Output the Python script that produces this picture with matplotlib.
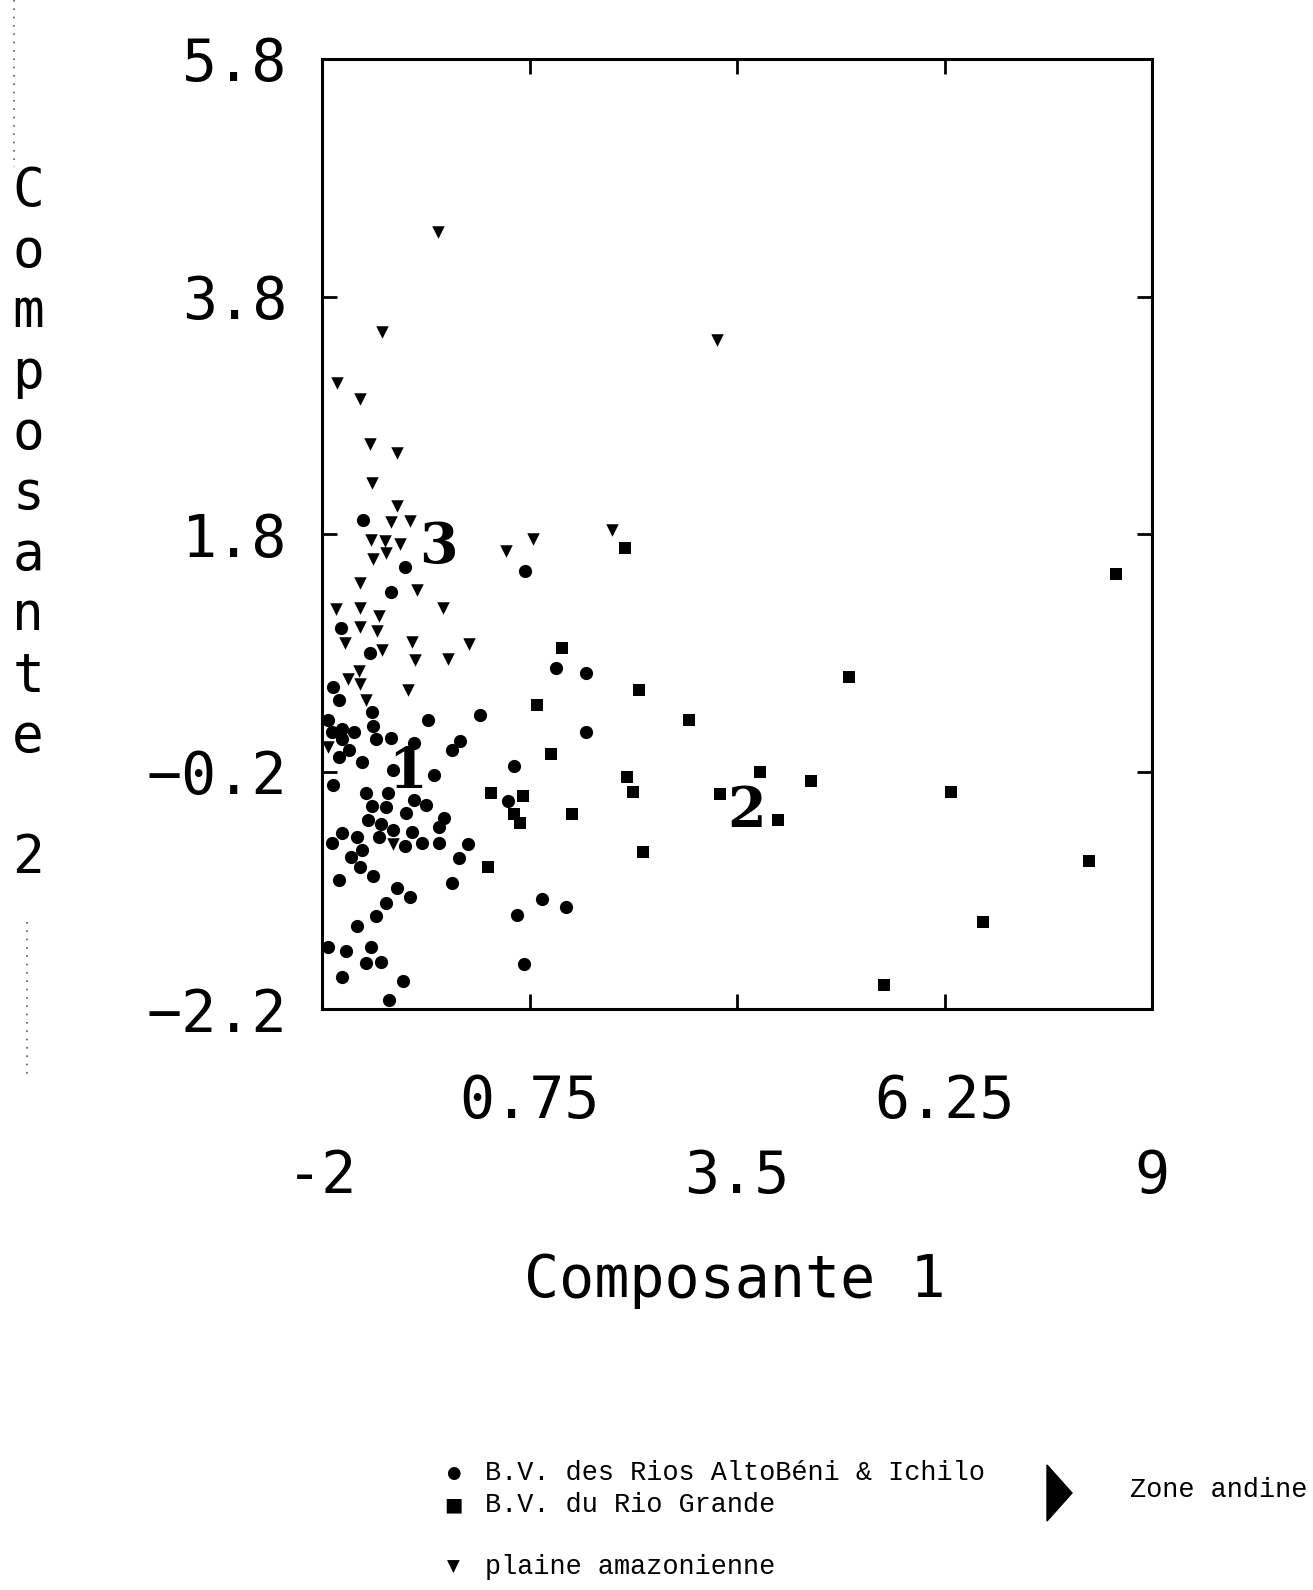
"""
ACP scatter: Composante 1 vs Composante 2, three groups of basins.

Values were read off a scanned figure; saved as out.png.
"""

import matplotlib

matplotlib.use("Agg")

import matplotlib.pyplot as plt
from matplotlib.lines import Line2D
from matplotlib.patches import Polygon

FIG_W_PX = 1313
FIG_H_PX = 1590
DPI = 100
INK = "black"
MONO = "DejaVu Sans Mono"
TYPEWRITER = "Liberation Mono"

# B.V. des Rios AltoBéni & Ichilo (circles)
altobeni_x = [
    -1.46, -0.90, 0.69, -1.09, -1.75, -1.37, 1.10, 1.50, -1.85, -1.77,
    -1.34, 0.10, -1.92, -0.59, -1.32, -1.87, -1.73, -1.58, 1.50, -1.73,
    -1.29, -1.09, -0.78, -0.17, -1.64, -0.28, -1.77, -1.47, 0.54, -1.06,
    -0.51, -1.86, -1.42, -1.13, -0.78, -0.62, 0.47, -1.34, -1.15, -0.89,
    -0.38, -0.45, -1.39, -1.22, -1.06, -0.81, -1.74, -1.54, -1.87, -1.24,
    -0.90, -0.68, -0.45, -0.07, -1.47, -1.61, -0.19, -1.50, -1.77, -1.33,
    -0.28, -1.00, -0.84, 0.92, 1.23, -1.15, 0.59, -1.28, -1.53, -1.92,
    -1.68, -1.35, -1.42, -1.22, 0.68, -1.74, -0.92, -1.11,
]
altobeni_y = [
    1.92, 1.52, 1.49, 1.31, 1.01, 0.80, 0.67, 0.63, 0.51, 0.40,
    0.30, 0.28, 0.23, 0.23, 0.18, 0.13, 0.16, 0.13, 0.13, 0.07,
    0.07, 0.08, 0.04, 0.06, -0.02, -0.02, -0.08, -0.12, -0.15, -0.19,
    -0.23, -0.31, -0.38, -0.38, -0.44, -0.48, -0.45, -0.49, -0.50, -0.55,
    -0.59, -0.67, -0.61, -0.64, -0.69, -0.71, -0.72, -0.75, -0.80, -0.75,
    -0.83, -0.80, -0.80, -0.81, -0.86, -0.92, -0.93, -1.00, -1.11, -1.08,
    -1.14, -1.18, -1.26, -1.27, -1.34, -1.31, -1.41, -1.42, -1.50, -1.68,
    -1.71, -1.68, -1.81, -1.80, -1.82, -1.93, -1.96, -2.12,
]

# B.V. du Rio Grande (squares)
grande_x = [
    2.02, 1.18, 2.20, 0.85, 1.04, 2.04, 2.12, 0.24, 0.66, 0.54,
    0.63, 1.31, 2.25, 0.20, 2.87, 4.99, 3.80, 4.48, 3.27, 4.04,
    6.33, 8.52, 8.17, 6.76, 5.45,
]
grande_y = [
    1.68, 0.84, 0.49, 0.36, -0.05, -0.25, -0.37, -0.38, -0.41, -0.56,
    -0.63, -0.56, -0.88, -1.00, 0.23, 0.60, -0.20, -0.28, -0.39, -0.61,
    -0.37, 1.46, -0.95, -1.47, -2.00,
]

# plaine amazonienne (triangles)
plaine_x = [
    -0.46, -1.21, -1.80, -1.49, -1.37, -1.00, -1.34, -1.00, -1.09, -0.84,
    -1.35, -1.17, -0.96, -1.15, -1.32, 0.44, 0.80, 1.84, -1.50, -0.74,
    -1.81, -1.49, -1.25, -0.39, -1.50, -1.27, -1.69, -0.81, -0.05, -1.21,
    -0.77, -0.33, -1.51, -1.65, -1.49, -0.86, -1.42, -1.92, -1.06, 3.23,
]
plaine_y = [
    4.34, 3.50, 3.07, 2.94, 2.56, 2.48, 2.23, 2.04, 1.90, 1.91,
    1.75, 1.74, 1.72, 1.64, 1.59, 1.66, 1.76, 1.83, 1.39, 1.33,
    1.17, 1.18, 1.11, 1.18, 1.02, 0.98, 0.88, 0.89, 0.87, 0.82,
    0.74, 0.75, 0.65, 0.58, 0.54, 0.49, 0.40, 0.01, -0.81, 3.43,
]

# cluster numbers written on the chart
cluster_names = ["1", "2", "3"]
cluster_x = [-0.87, 3.63, -0.46]
cluster_y = [-0.21, -0.54, 1.69]

x_limits = (-2, 9)
y_limits = (-2.2, 5.8)
x_upper_ticks = [0.75, 6.25]
x_upper_labels = ["0.75", "6.25"]
x_lower_ticks = [-2, 3.5, 9]
x_lower_labels = ["-2", "3.5", "9"]
y_ticks = [-2.2, -0.2, 1.8, 3.8, 5.8]
y_tick_labels = ["\u22122.2", "\u22120.2", "1.8", "3.8", "5.8"]

legend_rows = [
    ("\u25cf", "B.V. des Rios AltoBéni & Ichilo", 1473, 12),
    ("\u25a0", "B.V. du Rio Grande", 1505, 14),
    ("\u25bc", "plaine amazonienne", 1567, 12),
]


def _fx(px: float) -> float:
    """Figure fraction from a horizontal pixel position."""
    return px / FIG_W_PX


def _fy(py: float) -> float:
    """Figure fraction from a vertical pixel position (top origin)."""
    return 1 - py / FIG_H_PX


fig = plt.figure(figsize=(FIG_W_PX / DPI, FIG_H_PX / DPI), dpi=DPI)
fig.patch.set_facecolor("white")
ax = fig.add_axes([_fx(322), _fy(1009), _fx(830), 950 / FIG_H_PX])

ax.scatter(altobeni_x, altobeni_y, marker="o", s=9.5**2, color=INK, linewidths=0, zorder=3)
ax.scatter(grande_x, grande_y, marker="s", s=8.5**2, color=INK, linewidths=0, zorder=3)
ax.scatter(plaine_x, plaine_y, marker="v", s=9.0**2, color=INK, linewidths=0, zorder=3)

for name, cx, cy in zip(cluster_names, cluster_x, cluster_y):
    ax.text(cx, cy, name, fontsize=40, fontweight="heavy", family="DejaVu Serif",
            ha="center", va="center", color=INK, zorder=4)

ax.set_xlim(*x_limits)
ax.set_ylim(*y_limits)

for spine in ax.spines.values():
    spine.set_linewidth(2.2)
    spine.set_color(INK)

# two staggered rows of x labels: upper row = major, lower row = minor
ax.set_xticks(x_upper_ticks)
ax.set_xticklabels(x_upper_labels)
ax.set_xticks(x_lower_ticks, minor=True)
ax.set_xticklabels(x_lower_labels, minor=True)
ax.set_yticks(y_ticks)
ax.set_yticklabels(y_tick_labels)

ax.tick_params(axis="both", which="both", direction="in", length=11, width=2,
               top=True, right=True, colors=INK)
ax.tick_params(axis="x", which="major", pad=46, labelsize=42)
ax.tick_params(axis="x", which="minor", pad=100, labelsize=42)
ax.tick_params(axis="y", which="major", pad=25, labelsize=42)
for label in ax.get_xticklabels(which="both") + ax.get_yticklabels():
    label.set_family(MONO)

ax.set_xlabel("Composante 1", fontsize=42, family=MONO)
ax.xaxis.set_label_coords(0.4976, -0.286)
ax.xaxis.label.set_va("center")

ax.set_ylabel("C\no\nm\np\no\ns\na\nn\nt\ne\n\n2", rotation=0, fontsize=38,
              family=MONO, linespacing=1.21, ha="center", va="center")
ax.yaxis.set_label_coords(-0.354, 0.51)

# legend block drawn as text under the chart
for glyph, text, py, size in legend_rows:
    fig.text(_fx(453), _fy(py), glyph, fontsize=size, family="DejaVu Sans",
             ha="center", va="center", color=INK)
    fig.text(_fx(485), _fy(py), text, fontsize=19.4, family=TYPEWRITER,
             ha="left", va="center", color=INK)

arrow = Polygon(
    [[_fx(1047), _fy(1465)], [_fx(1047), _fy(1521)], [_fx(1072), _fy(1493)]],
    closed=True, transform=fig.transFigure, color=INK,
)
fig.add_artist(arrow)
fig.text(_fx(1130), _fy(1490), "Zone andine", fontsize=19.4, family=TYPEWRITER,
         ha="left", va="center", color=INK)

# dotted scan marks along the left margin
fig.add_artist(Line2D([_fx(14), _fx(14)], [_fy(0), _fy(167)], transform=fig.transFigure,
                      linestyle=(0, (1, 4)), linewidth=1.2, color="0.35"))
fig.add_artist(Line2D([_fx(27), _fx(27)], [_fy(922), _fy(1075)], transform=fig.transFigure,
                      linestyle=(0, (1, 4)), linewidth=1.2, color="0.35"))

fig.savefig("out.png", dpi=DPI, facecolor="white")
plt.close(fig)
